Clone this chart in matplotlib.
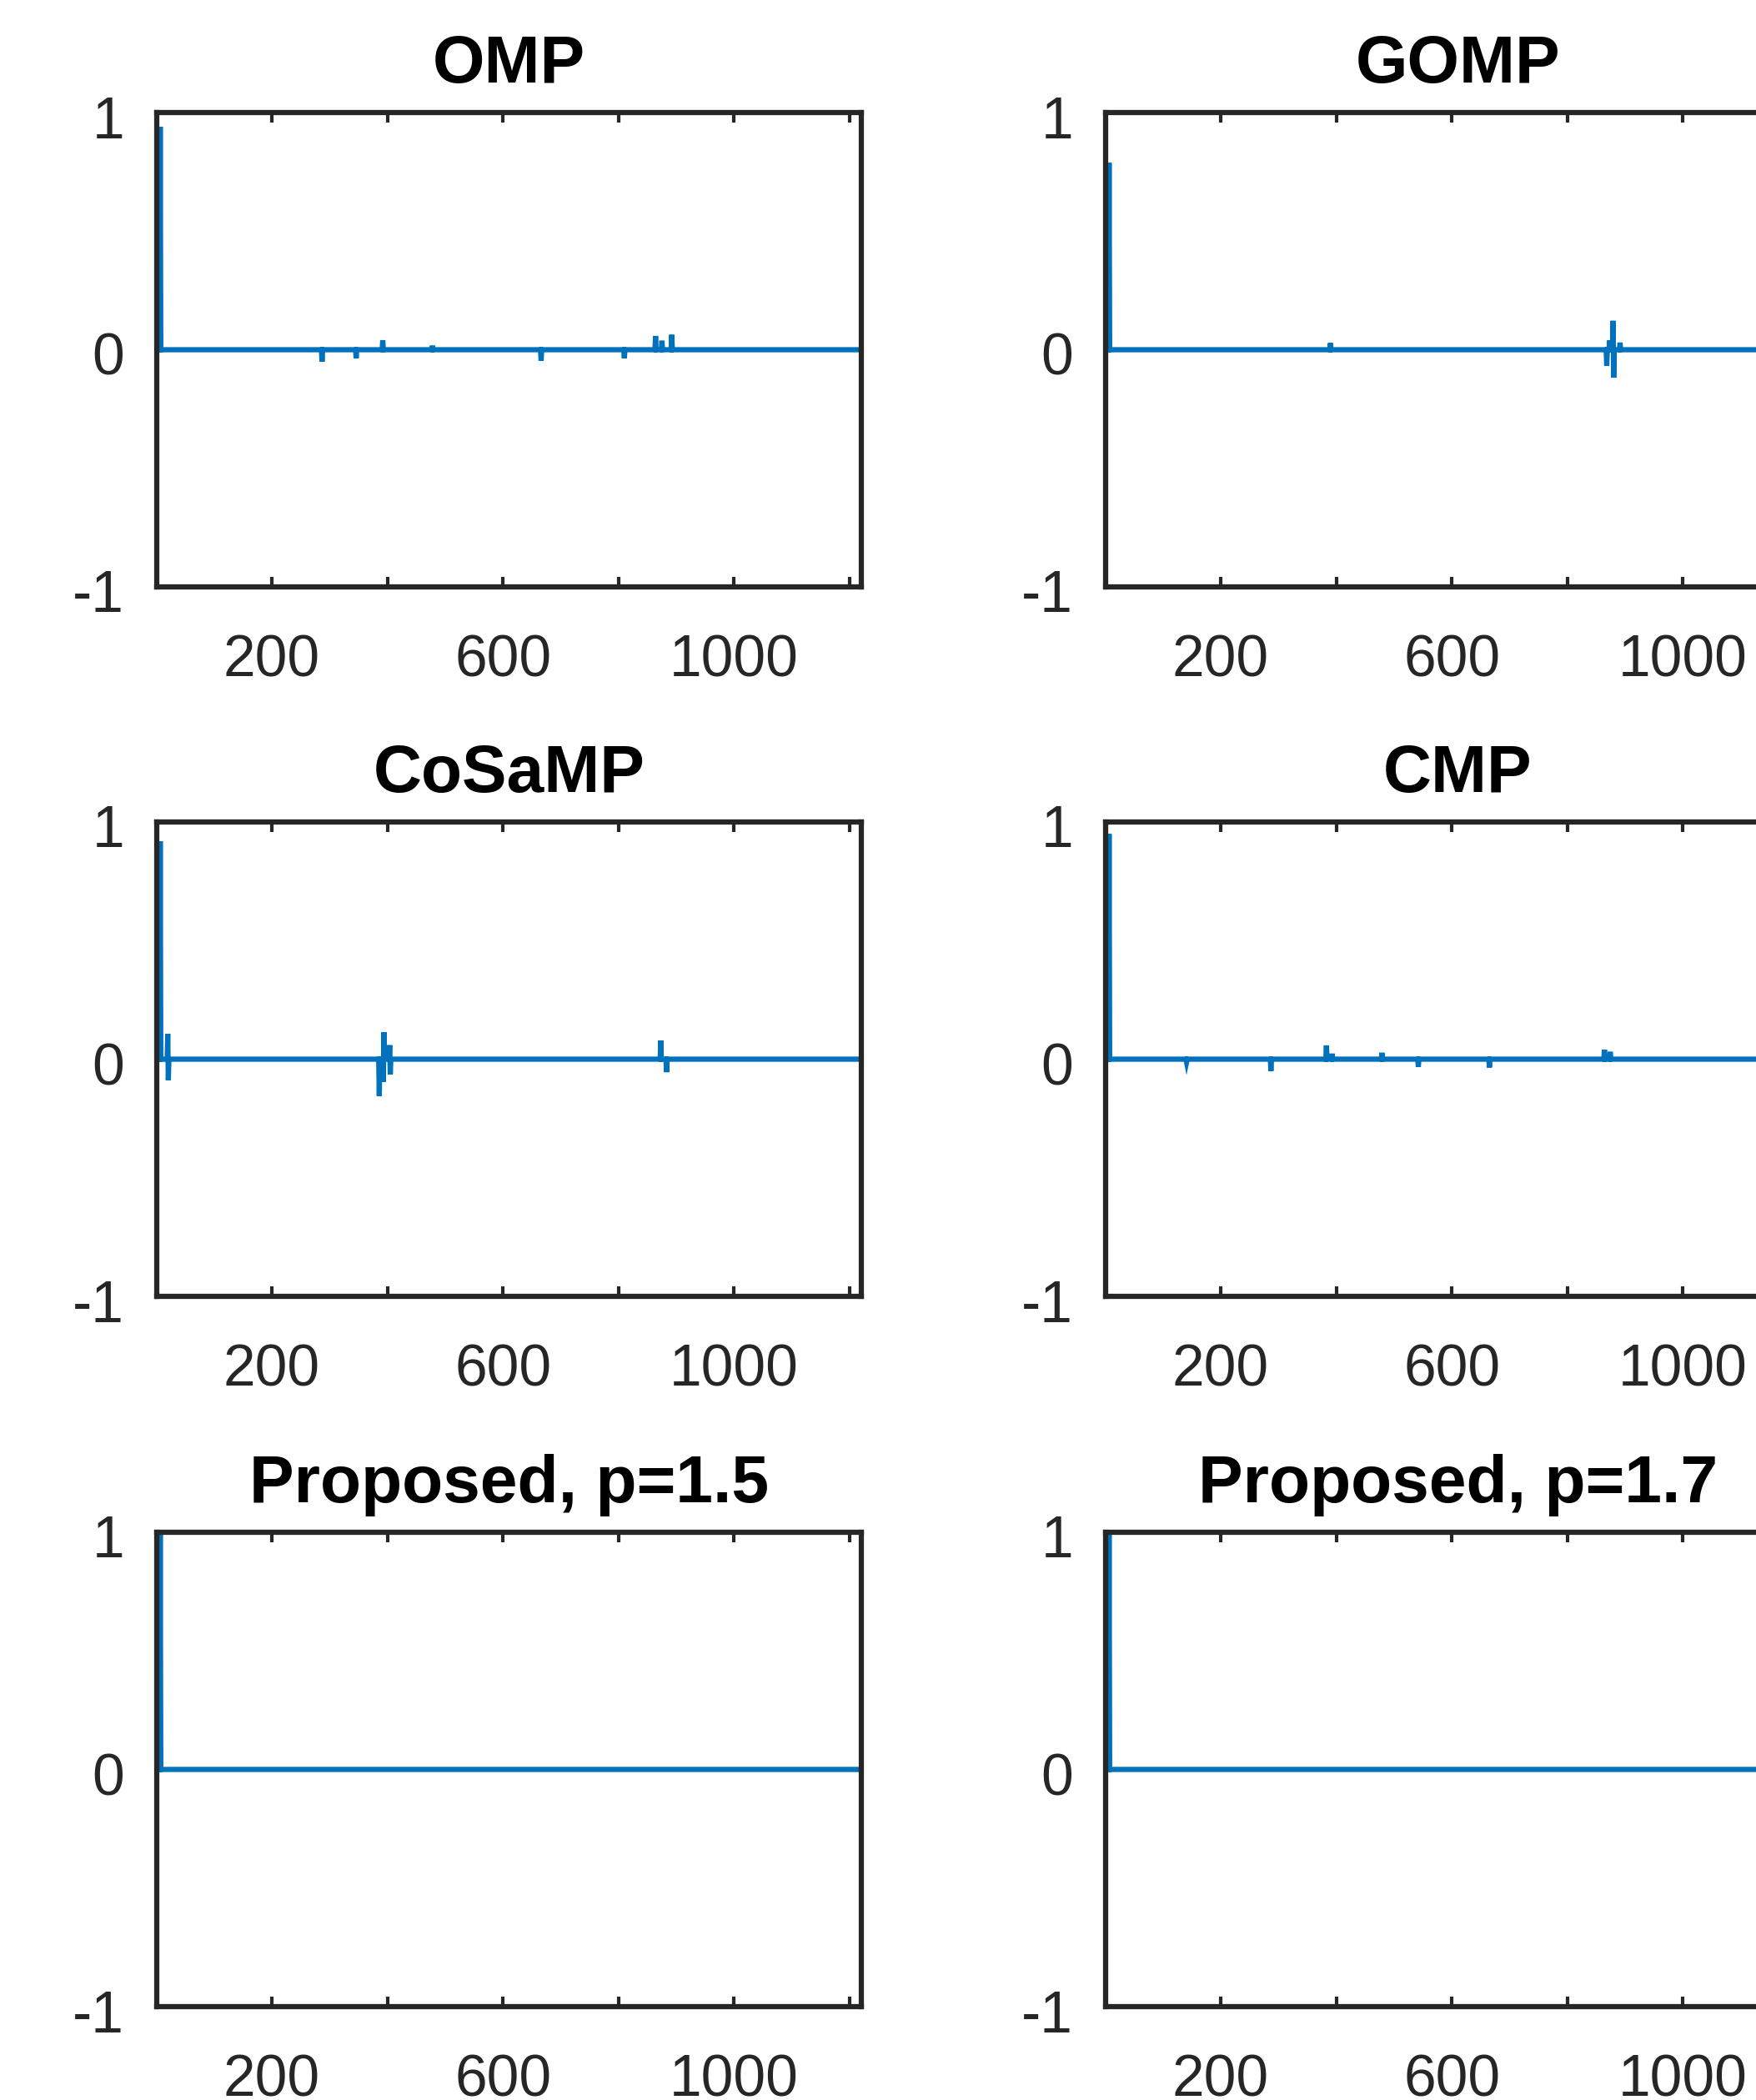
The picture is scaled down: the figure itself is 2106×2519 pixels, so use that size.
"""Recovered sparse signals: six methods, one stem-like line plot each."""

import matplotlib

matplotlib.use("Agg")
import matplotlib.pyplot as plt
import matplotlib.transforms as mtransforms
import numpy as np

N = 1220
TITLES = ["OMP", "GOMP", "CoSaMP", "CMP", "Proposed, p=1.5", "Proposed, p=1.7"]

# nonzero entries per method: (index, value)
omp_idx = [7, 287, 346, 392, 478, 666, 810, 864, 875, 892]
omp_val = [0.94, -0.05, -0.036, 0.04, 0.017, -0.046, -0.036, 0.058, 0.038, 0.063]

gomp_idx = [7, 390, 868, 873, 879, 880, 891]
gomp_val = [0.788, 0.028, -0.067, 0.039, 0.122, -0.118, 0.030]

cosamp_idx = [7, 20, 21, 386, 393, 394, 404, 405, 873, 883]
cosamp_val = [0.919, 0.107, -0.088, -0.155, -0.096, 0.114, 0.059, -0.064, 0.078, -0.055]

cmp_idx = [7, 141, 287, 383, 393, 479, 542, 665, 864, 874]
cmp_val = [0.949, -0.012, -0.05, 0.058, 0.023, 0.027, -0.032, -0.035, 0.04, 0.031]

p15_idx = [7]
p15_val = [0.998]

p17_idx = [7]
p17_val = [0.998]

SPIKES = [
    (omp_idx, omp_val),
    (gomp_idx, gomp_val),
    (cosamp_idx, cosamp_val),
    (cmp_idx, cmp_val),
    (p15_idx, p15_val),
    (p17_idx, p17_val),
]

XTICKS = [200, 400, 600, 800, 1000, 1200]
XTICKLABELS = ["200", "", "600", "", "1000", ""]
YTICKS = [-1, 0, 1]
YTICKLABELS = ["-1", "0", "1"]

BLUE = "#0072BD"
DARK = "#262626"

plt.rcParams["font.family"] = ["Liberation Sans", "DejaVu Sans"]

W, H, DPI = 2106, 2519, 300
fig = plt.figure(figsize=(W / DPI, H / DPI), dpi=DPI)

col_left = [188 / W, 1326 / W]
ax_w = 845 / W
row_top = [135, 986, 1838]
ax_h = 569 / H

# MATLAB puts y tick labels a touch below the tick
ylab_shift = mtransforms.ScaledTranslation(0, -1.2 / 72, fig.dpi_scale_trans)

n = np.arange(1, N + 1)
for k, (title, (idx, val)) in enumerate(zip(TITLES, SPIKES)):
    r, c = divmod(k, 2)
    bottom = 1 - (row_top[r] + 569) / H
    ax = fig.add_axes([col_left[c], bottom, ax_w, ax_h])

    x = np.zeros(N)
    x[np.array(idx) - 1] = val
    ax.plot(n, x, color=BLUE, linewidth=1.5,
            solid_capstyle="butt", solid_joinstyle="miter")

    ax.set_xlim(1, N)
    ax.set_ylim(-1, 1)
    ax.set_xticks(XTICKS)
    ax.set_xticklabels(XTICKLABELS)
    ax.set_yticks(YTICKS)
    ax.set_yticklabels(YTICKLABELS)
    ax.tick_params(axis="both", direction="in", top=True, right=True,
                   length=2.8, width=1.0, color=DARK, labelcolor=DARK,
                   labelsize=16.7)
    ax.tick_params(axis="x", pad=13.5)
    ax.tick_params(axis="y", pad=9.3)
    for lab in ax.get_yticklabels():
        lab.set_transform(lab.get_transform() + ylab_shift)
    for s in ax.spines.values():
        s.set_linewidth(1.5)
        s.set_color(DARK)
    ax.set_title(title, fontsize=19.3, fontweight="bold", color="black", pad=8.6)

fig.savefig("out.png", dpi=DPI)
